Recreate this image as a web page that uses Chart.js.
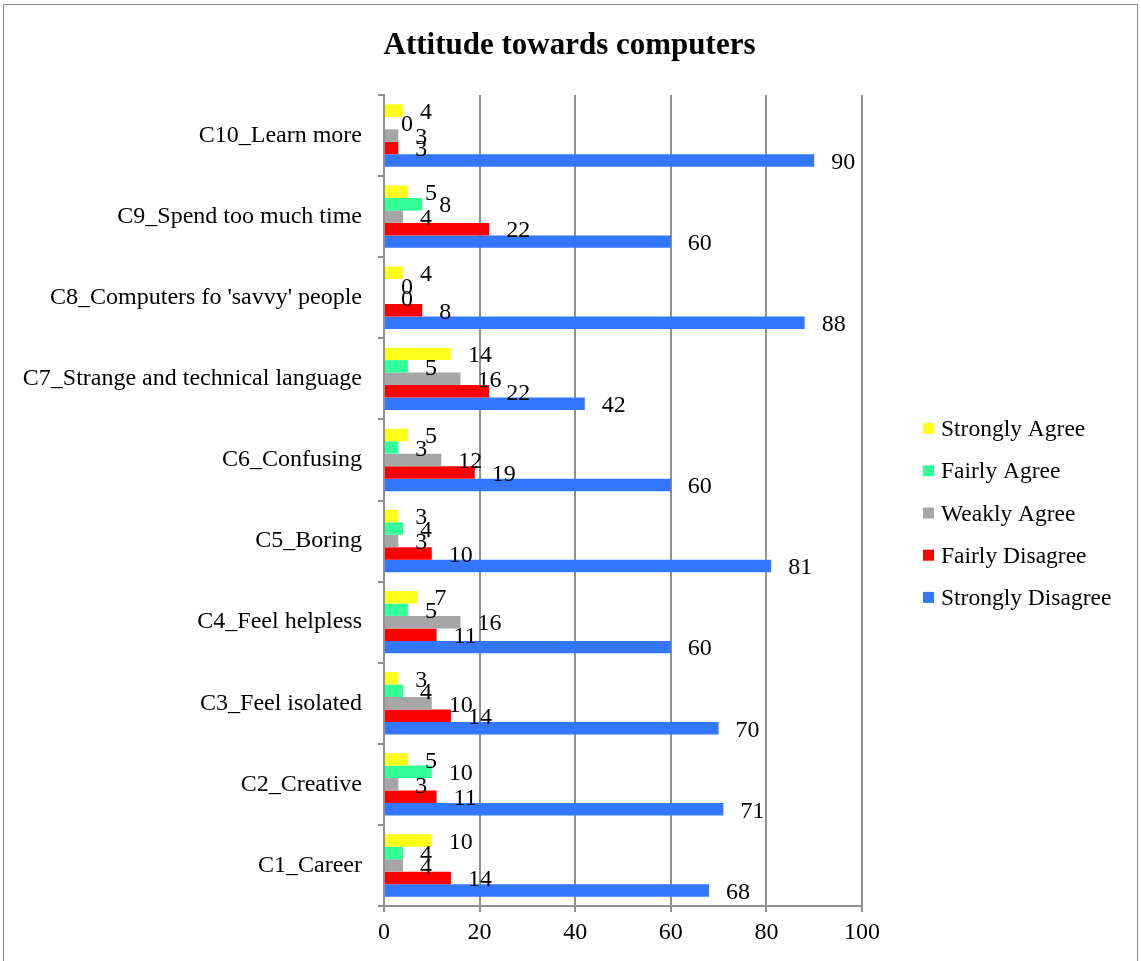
<!DOCTYPE html>
<html>
<head>
<meta charset="utf-8">
<title>Attitude towards computers</title>
<script src="https://cdn.jsdelivr.net/npm/chart.js@4.4.1/dist/chart.umd.min.js"></script>
<style>
  html, body { margin: 0; padding: 0; background: #fff; }
  canvas { display: block; }
</style>
</head>
<body>
<canvas id="attitude-chart" width="1141" height="961"></canvas>
<script>
// survey items, bottom to top
const items = [
  "C1_Career",
  "C2_Creative",
  "C3_Feel isolated",
  "C4_Feel helpless",
  "C5_Boring",
  "C6_Confusing",
  "C7_Strange and technical language",
  "C8_Computers fo 'savvy' people",
  "C9_Spend too much time",
  "C10_Learn more"
];

// answer counts per item (same order as items)
const stronglyAgree    = [10, 5, 3, 7, 3, 5, 14, 4, 5, 4];
const fairlyAgree      = [4, 10, 4, 5, 4, 3, 5, 0, 8, 0];
const weaklyAgree      = [4, 3, 10, 16, 3, 12, 16, 0, 4, 3];
const fairlyDisagree   = [14, 11, 14, 11, 10, 19, 22, 8, 22, 3];
const stronglyDisagree = [68, 71, 70, 60, 81, 60, 42, 88, 60, 90];

const xTicks = [0, 20, 40, 60, 80, 100];

const chartTitle = "Attitude towards computers";

const FONT = "'Liberation Serif', 'Times New Roman', serif";
const GRID = "#909090";

const series = [
  { label: "Strongly Agree",    data: stronglyAgree,    color: "#ffff1a" },
  { label: "Fairly Agree",      data: fairlyAgree,      color: "#33ff99" },
  { label: "Weakly Agree",      data: weaklyAgree,      color: "#a6a6a6" },
  { label: "Fairly Disagree",   data: fairlyDisagree,   color: "#ff0000" },
  { label: "Strongly Disagree", data: stronglyDisagree, color: "#3377ff" }
];

// white page, grey frame and the title centred over the whole figure
const framePlugin = {
  id: "frame",
  beforeDraw(chart) {
    const ctx = chart.ctx;
    ctx.save();
    ctx.fillStyle = "#fff";
    ctx.fillRect(0, 0, chart.width, chart.height);
    ctx.strokeStyle = "#8c8c8c";
    ctx.lineWidth = 1;
    ctx.strokeRect(3.5, 4.5, chart.width - 7, chart.height + 10);
    ctx.font = "bold 31px " + FONT;
    ctx.fillStyle = "#000";
    ctx.textAlign = "center";
    ctx.textBaseline = "alphabetic";
    ctx.fillText(chartTitle, chart.width / 2 - 1, 54);
    ctx.restore();
  }
};

// value printed just past the end of each bar
const valueLabels = {
  id: "valueLabels",
  afterDatasetsDraw(chart) {
    const ctx = chart.ctx;
    ctx.save();
    ctx.font = "24px " + FONT;
    ctx.fillStyle = "#000";
    ctx.textAlign = "left";
    ctx.textBaseline = "middle";
    chart.data.datasets.forEach((ds, di) => {
      const meta = chart.getDatasetMeta(di);
      meta.data.forEach((bar, i) => {
        ctx.fillText(String(ds.data[i]), bar.x + 17, bar.y + 2);
      });
    });
    ctx.restore();
  }
};

// legend on the right, drawn by hand so it sits where we want it
const sideLegend = {
  id: "sideLegend",
  afterDraw(chart) {
    const ctx = chart.ctx;
    const area = chart.chartArea;
    const step = 42.2;
    const n = chart.data.datasets.length;
    const x0 = area.right + 61;
    const y0 = (area.top + area.bottom) / 2 + 13 - step * (n - 1) / 2;
    ctx.save();
    ctx.font = "23.5px " + FONT;
    ctx.textBaseline = "middle";
    ctx.textAlign = "left";
    chart.data.datasets.forEach((ds, i) => {
      const y = y0 + i * step;
      ctx.fillStyle = ds.backgroundColor;
      ctx.fillRect(x0, y - 6, 11, 11);
      ctx.fillStyle = "#000";
      ctx.fillText(ds.label, x0 + 18, y + 1);
    });
    ctx.restore();
  }
};

new Chart(document.getElementById("attitude-chart"), {
  type: "bar",
  data: {
    labels: items,
    datasets: series.map(s => ({
      label: s.label,
      data: s.data,
      backgroundColor: s.color,
      borderWidth: 0,
      categoryPercentage: 0.77,
      barPercentage: 1
    }))
  },
  options: {
    indexAxis: "y",
    responsive: false,
    animation: false,
    layout: { padding: { left: 0, right: 279, top: 95, bottom: 0 } },
    scales: {
      x: {
        min: 0,
        max: 100,
        afterBuildTicks(scale) {
          scale.ticks = xTicks.map(v => ({ value: v }));
        },
        afterFit(scale) { scale.height = 55; },
        grid: { color: GRID, lineWidth: 2, drawTicks: true, tickLength: 6, tickColor: GRID },
        border: { display: true, color: GRID, width: 2 },
        ticks: { color: "#000", font: { family: FONT, size: 24 }, padding: 6 }
      },
      y: {
        reverse: true,
        afterFit(scale) { scale.width = 384; },
        grid: { drawOnChartArea: false, drawTicks: true, tickLength: 6, lineWidth: 2, color: GRID, offset: true },
        border: { display: true, color: GRID, width: 2 },
        ticks: { color: "#000", font: { family: FONT, size: 24 }, padding: 16 }
      }
    },
    plugins: {
      legend: { display: false },
      tooltip: { enabled: false },
      title: { display: false }
    }
  },
  plugins: [framePlugin, valueLabels, sideLegend]
});
</script>
</body>
</html>
